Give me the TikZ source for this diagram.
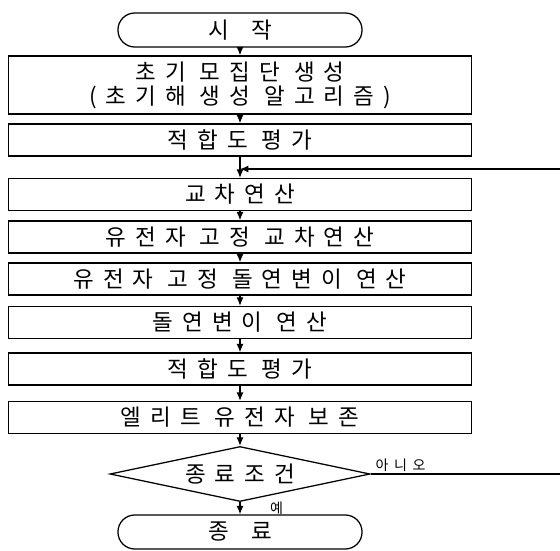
\documentclass[tikz,border=0pt]{standalone}
\usepackage{fontspec}
\setmainfont{Noto Sans CJK KR}[LetterSpace=40]
\usetikzlibrary{shapes.geometric,arrows.meta}
\tikzset{
  >={Latex[length=6pt,width=5pt]},
  box/.style={draw, line width=0.9pt, minimum width=11.575cm, minimum height=0.8cm,
    inner sep=0pt, align=center, font=\fontsize{16}{17}\selectfont},
  term/.style={draw, line width=0.9pt, rounded corners=0.42cm, minimum width=6.1cm,
    minimum height=0.85cm, inner sep=0pt, font=\fontsize{16}{17}\selectfont},
  dcsn/.style={draw, diamond, shape aspect=4.7, line width=0.9pt, minimum width=6.5cm,
    minimum height=1.375cm, inner sep=0pt, font=\fontsize{16}{17}\selectfont},
  lbl/.style={font=\fontsize{10}{12}\selectfont, inner sep=1pt}
}
\begin{document}
\begin{tikzpicture}[x=0.025cm, y=-0.025cm]
        \useasboundingbox (0,0) rectangle (560,551);
        % Nodos del diagrama
        \node[term] (start) at (240,30) {시\quad 작};
        \node[box, minimum height=1.45cm] (init) at (240,85) {초기 모집단 생성\\(초기해 생성 알고리즘)};
        \node[box] (eval1) at (240,140) {적합도 평가};
        \coordinate (join) at (240,169);
        \node[box] (cross) at (240,194.5) {교차연산};
        \node[box] (fixcross) at (240,237) {유전자 고정 교차연산};
        \node[box] (fixmut) at (240,279) {유전자 고정 돌연변이 연산};
        \node[box] (mut) at (240,322.5) {돌연변이 연산};
        \node[box] (eval2) at (240,369) {적합도 평가};
        \node[box] (elite) at (240,417.5) {엘리트 유전자 보존};
        \node[dcsn] (stop) at (240,474) {종료조건};
        \node[term] (end) at (240,532) {종\quad 료};
        % Flechas
        \draw[->, line width=0.9pt] (start) -- (init);
        \draw[->, line width=0.9pt] (init) -- (eval1);
        \draw[->, line width=0.9pt] (eval1) -- (cross);
        \draw[->, line width=0.9pt] (cross) -- (fixcross);
        \draw[->, line width=0.9pt] (fixcross) -- (fixmut);
        \draw[->, line width=0.9pt] (fixmut) -- (mut);
        \draw[->, line width=0.9pt] (mut) -- (eval2);
        \draw[->, line width=0.9pt] (eval2) -- (elite);
        \draw[->, line width=0.9pt] (elite) -- (stop);
        \draw[->, line width=0.9pt] (stop) -- node[lbl, midway, right=20pt] {예} (end);
        % Lazo de retorno
        \draw[->, line width=0.9pt] (stop.east) node[lbl, anchor=south west, xshift=2pt] {아니오}
          -- (566,474) -- (566,169) -- (join);
\end{tikzpicture}
\end{document}
